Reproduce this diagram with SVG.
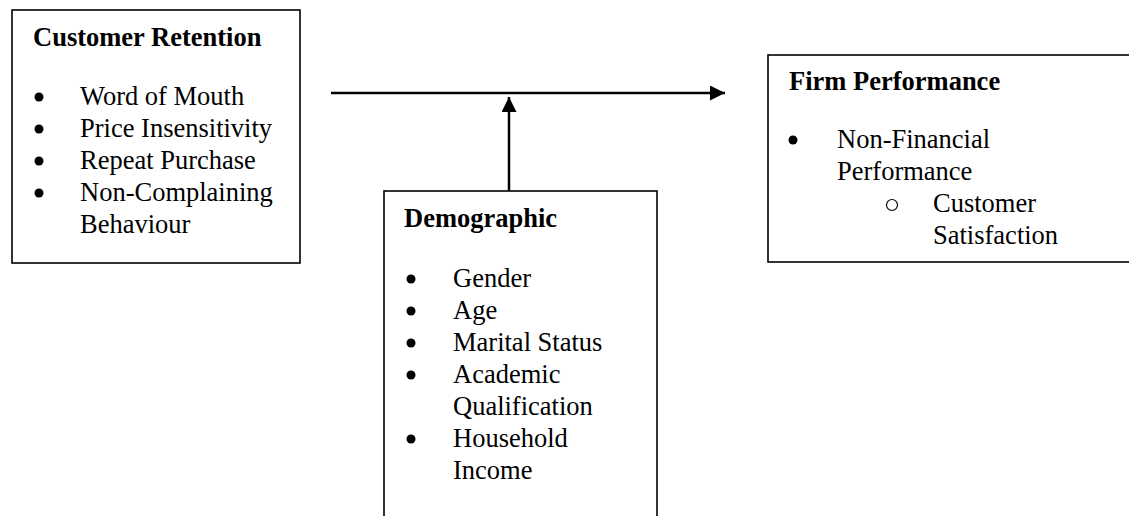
<svg xmlns="http://www.w3.org/2000/svg" width="1129" height="516" viewBox="0 0 1129 516">
<defs>
<style>
.box{fill:#fff;stroke:#000;stroke-width:1.6}
.t{font-family:"Liberation Serif","Times New Roman",serif;font-size:26.5px;fill:#000}
.h{font-weight:bold}
.edge{stroke:#000;stroke-width:2.5;fill:none}
.dot{fill:#000}
.ring{fill:none;stroke:#000;stroke-width:1.2}
</style>
<marker id="ah" viewBox="0 0 10 10" refX="10" refY="5" markerWidth="6" markerHeight="6" markerUnits="strokeWidth" orient="auto">
<path d="M0,0 L10,5 L0,10 Z" fill="#000"/>
</marker>
</defs>
<g id="connectors">
<line class="edge" x1="331" y1="93" x2="725" y2="93" marker-end="url(#ah)"/>
<line class="edge" x1="509" y1="191" x2="509" y2="97" marker-end="url(#ah)"/>
</g>
<g id="customer-retention">
<rect class="box" x="12" y="10" width="288" height="253"/>
<text class="t h" x="33" y="46">Customer Retention</text>
<circle class="dot" cx="39" cy="97" r="4.5"/>
<circle class="dot" cx="39" cy="129" r="4.5"/>
<circle class="dot" cx="39" cy="161" r="4.5"/>
<circle class="dot" cx="39" cy="193" r="4.5"/>
<g class="t">
<text x="80" y="105">Word of Mouth</text>
<text x="80" y="137">Price Insensitivity</text>
<text x="80" y="169">Repeat Purchase</text>
<text x="80" y="201">Non-Complaining</text>
<text x="80" y="233">Behaviour</text>
</g>
</g>
<g id="demographic">
<rect class="box" x="384" y="191" width="273" height="335"/>
<text class="t h" x="404" y="227">Demographic</text>
<circle class="dot" cx="411" cy="279" r="4.5"/>
<circle class="dot" cx="411" cy="311" r="4.5"/>
<circle class="dot" cx="411" cy="343" r="4.5"/>
<circle class="dot" cx="411" cy="375" r="4.5"/>
<circle class="dot" cx="411" cy="439" r="4.5"/>
<g class="t">
<text x="453" y="287">Gender</text>
<text x="453" y="319">Age</text>
<text x="453" y="351">Marital Status</text>
<text x="453" y="383">Academic</text>
<text x="453" y="415">Qualification</text>
<text x="453" y="447">Household</text>
<text x="453" y="479">Income</text>
</g>
</g>
<g id="firm-performance">
<rect class="box" x="768" y="55" width="370" height="207"/>
<text class="t h" x="789" y="90">Firm Performance</text>
<circle class="dot" cx="793" cy="140" r="4.5"/>
<circle class="ring" cx="892" cy="205" r="5.5"/>
<g class="t">
<text x="837" y="148">Non-Financial</text>
<text x="837" y="180">Performance</text>
<text x="933" y="212">Customer</text>
<text x="933" y="244">Satisfaction</text>
</g>
</g>
</svg>
